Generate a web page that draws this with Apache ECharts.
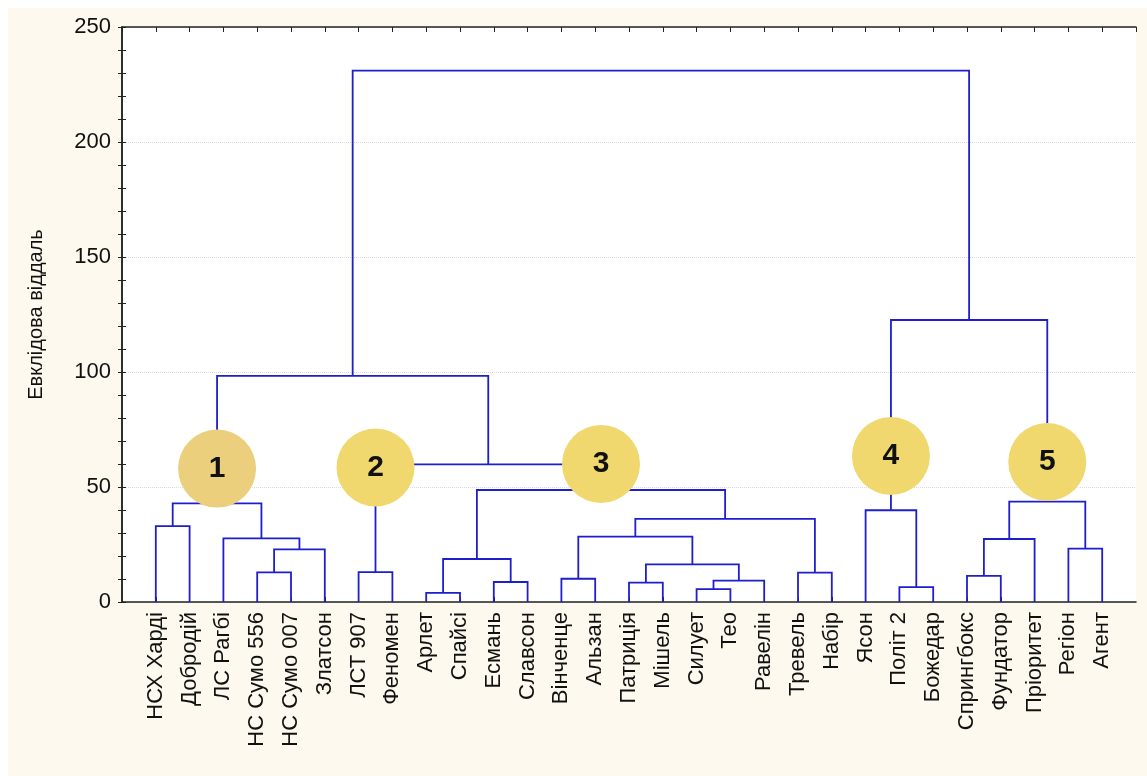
<!DOCTYPE html>
<html>
<head>
<meta charset="utf-8">
<script src="https://cdn.jsdelivr.net/npm/echarts@6/dist/echarts.min.js"></script>
<style>
html, body { margin: 0; padding: 0; background: #fff; }
#chart { position: absolute; left: 8px; top: 8px; width: 1139px; height: 768px; }
</style>
</head>
<body>
<div id="chart"></div>
<script>
const leaves = [
  'НСХ Харді', 'Добродій', 'ЛС Рагбі', 'НС Сумо 556', 'НС Сумо 007', 'Златсон',
  'ЛСТ 907', 'Феномен', 'Арлет', 'Спайсі', 'Есмань', 'Славсон', 'Вінченце',
  'Альзан', 'Патриція', 'Мішель', 'Силует', 'Тео', 'Равелін', 'Тревель', 'Набір',
  'Ясон', 'Політ 2', 'Божедар', 'Спрингбокс', 'Фундатор', 'Пріоритет', 'Регіон', 'Агент'
]

// [child a, child b, distance]; ids >= leaves.length point to earlier merges (29 = first row)
const merges = [
  [8, 9, 4.0],     // 29
  [16, 17, 5.6],   // 30
  [22, 23, 6.5],   // 31
  [14, 15, 8.4],   // 32
  [10, 11, 8.7],   // 33
  [30, 18, 9.3],   // 34
  [12, 13, 10.1],  // 35
  [24, 25, 11.4],  // 36
  [19, 20, 12.8],  // 37
  [3, 4, 12.9],    // 38
  [6, 7, 13.0],    // 39
  [32, 34, 16.4],  // 40
  [29, 33, 18.7],  // 41
  [38, 5, 22.9],   // 42
  [27, 28, 23.2],  // 43
  [36, 26, 27.4],  // 44
  [2, 42, 27.7],   // 45
  [35, 40, 28.4],  // 46
  [0, 1, 33.0],    // 47
  [46, 37, 36.1],  // 48
  [21, 31, 39.9],  // 49
  [47, 45, 42.9],  // 50
  [44, 43, 43.6],  // 51
  [41, 48, 48.7],  // 52
  [39, 52, 59.8],  // 53
  [50, 53, 98.3],  // 54
  [49, 51, 122.6], // 55
  [54, 55, 231.0]  // 56
]

// numbered cluster badges: node they sit on, height of badge centre, label
const clusterNodes = [50, 39, 52, 49, 51]
const clusterHeights = [58.0, 58.5, 60.0, 63.5, 60.9]
const clusterLabels = ['1', '2', '3', '4', '5']

const yTicks = [0, 50, 100, 150, 200, 250]

// node positions
const nodeX = leaves.map((_, i) => i + 1)
const nodeH = leaves.map(() => 0)
const links = merges.map(m => {
  const [a, b, h] = m
  nodeX.push((nodeX[a] + nodeX[b]) / 2)
  nodeH.push(h)
  return [nodeX[a], nodeH[a], nodeX[b], nodeH[b], h]
})

const badges = clusterNodes.map((n, i) => ({
  value: [nodeX[n], clusterHeights[i], clusterLabels[i]],
  itemStyle: { color: i === 0 ? '#ebcf7d' : '#f0d86e', opacity: 1 }
}))

const axisColor = '#222'
const font = 'Liberation Sans, Arial, sans-serif'

const option = {
  backgroundColor: '#fdf9ee',
  animation: false,
  grid: {
    left: 114, right: 11, top: 19, bottom: 174,
    show: true, backgroundColor: '#ffffff', borderWidth: 0
  },
  xAxis: [
    {
      type: 'value', min: 0, max: 30, interval: 1, position: 'bottom',
      axisLine: { show: true, onZero: false, lineStyle: { color: axisColor, width: 1.5 } },
      axisTick: { show: true, inside: true, length: 5, lineStyle: { color: axisColor } },
      axisLabel: {
        rotate: 90, margin: 10, fontSize: 22, color: '#111', fontFamily: font,
        showMinLabel: false, showMaxLabel: false,
        formatter: v => leaves[v - 1] || ''
      },
      splitLine: { show: false }
    },
    {
      type: 'value', min: 0, max: 30, interval: 1, position: 'top',
      axisLine: { show: true, onZero: false, lineStyle: { color: axisColor, width: 1.5 } },
      axisTick: { show: true, inside: true, length: 5, lineStyle: { color: axisColor } },
      axisLabel: { show: false },
      splitLine: { show: false }
    }
  ],
  yAxis: [
    {
      type: 'value', min: yTicks[0], max: yTicks[yTicks.length - 1], interval: 50,
      name: 'Евклідова віддаль', nameLocation: 'middle', nameGap: 76, nameRotate: 90,
      nameTextStyle: { fontSize: 20, color: '#111', fontFamily: font },
      axisLine: { show: true, lineStyle: { color: axisColor, width: 1.5 } },
      axisTick: { show: true, inside: true, length: 4, lineStyle: { color: axisColor } },
      minorTick: { show: true, splitNumber: 5, length: 4, lineStyle: { color: axisColor } },
      axisLabel: { fontSize: 22, color: '#111', margin: 11, fontFamily: font },
      splitLine: { show: true, lineStyle: { color: '#dcdcdc', type: 'dotted', width: 1 } }
    },
    {
      type: 'value', min: 0, max: 250, interval: 50, position: 'right',
      axisLine: { show: true, lineStyle: { color: axisColor, width: 1.5 } },
      axisTick: { show: true, inside: true, length: 4, lineStyle: { color: axisColor } },
      minorTick: { show: true, splitNumber: 5, length: 4, lineStyle: { color: axisColor } },
      axisLabel: { show: false },
      splitLine: { show: false }
    }
  ],
  series: [
    {
      type: 'custom',
      name: 'dendrogram',
      xAxisIndex: 0, yAxisIndex: 0,
      encode: { x: [0, 2], y: [1, 3, 4] },
      data: links,
      z: 2,
      renderItem: (params, api) => {
        const p1 = api.coord([api.value(0), api.value(1)])
        const p2 = api.coord([api.value(0), api.value(4)])
        const p3 = api.coord([api.value(2), api.value(4)])
        const p4 = api.coord([api.value(2), api.value(3)])
        return {
          type: 'polyline',
          shape: { points: [p1, p2, p3, p4] },
          style: { stroke: '#1e1ecc', lineWidth: 1.8, fill: null }
        }
      }
    },
    {
      type: 'scatter',
      name: 'clusters',
      xAxisIndex: 0, yAxisIndex: 0,
      symbol: 'circle',
      symbolSize: 78,
      z: 5,
      data: badges,
      emphasis: { disabled: true },
      label: {
        show: true, position: 'inside',
        formatter: p => p.value[2],
        fontSize: 30, fontWeight: 'bold', color: '#111',
        fontFamily: 'Liberation Sans Narrow, Liberation Sans, Arial, sans-serif'
      }
    }
  ]
}

const chart = echarts.init(document.getElementById('chart'))
chart.setOption(option)
</script>
</body>
</html>
